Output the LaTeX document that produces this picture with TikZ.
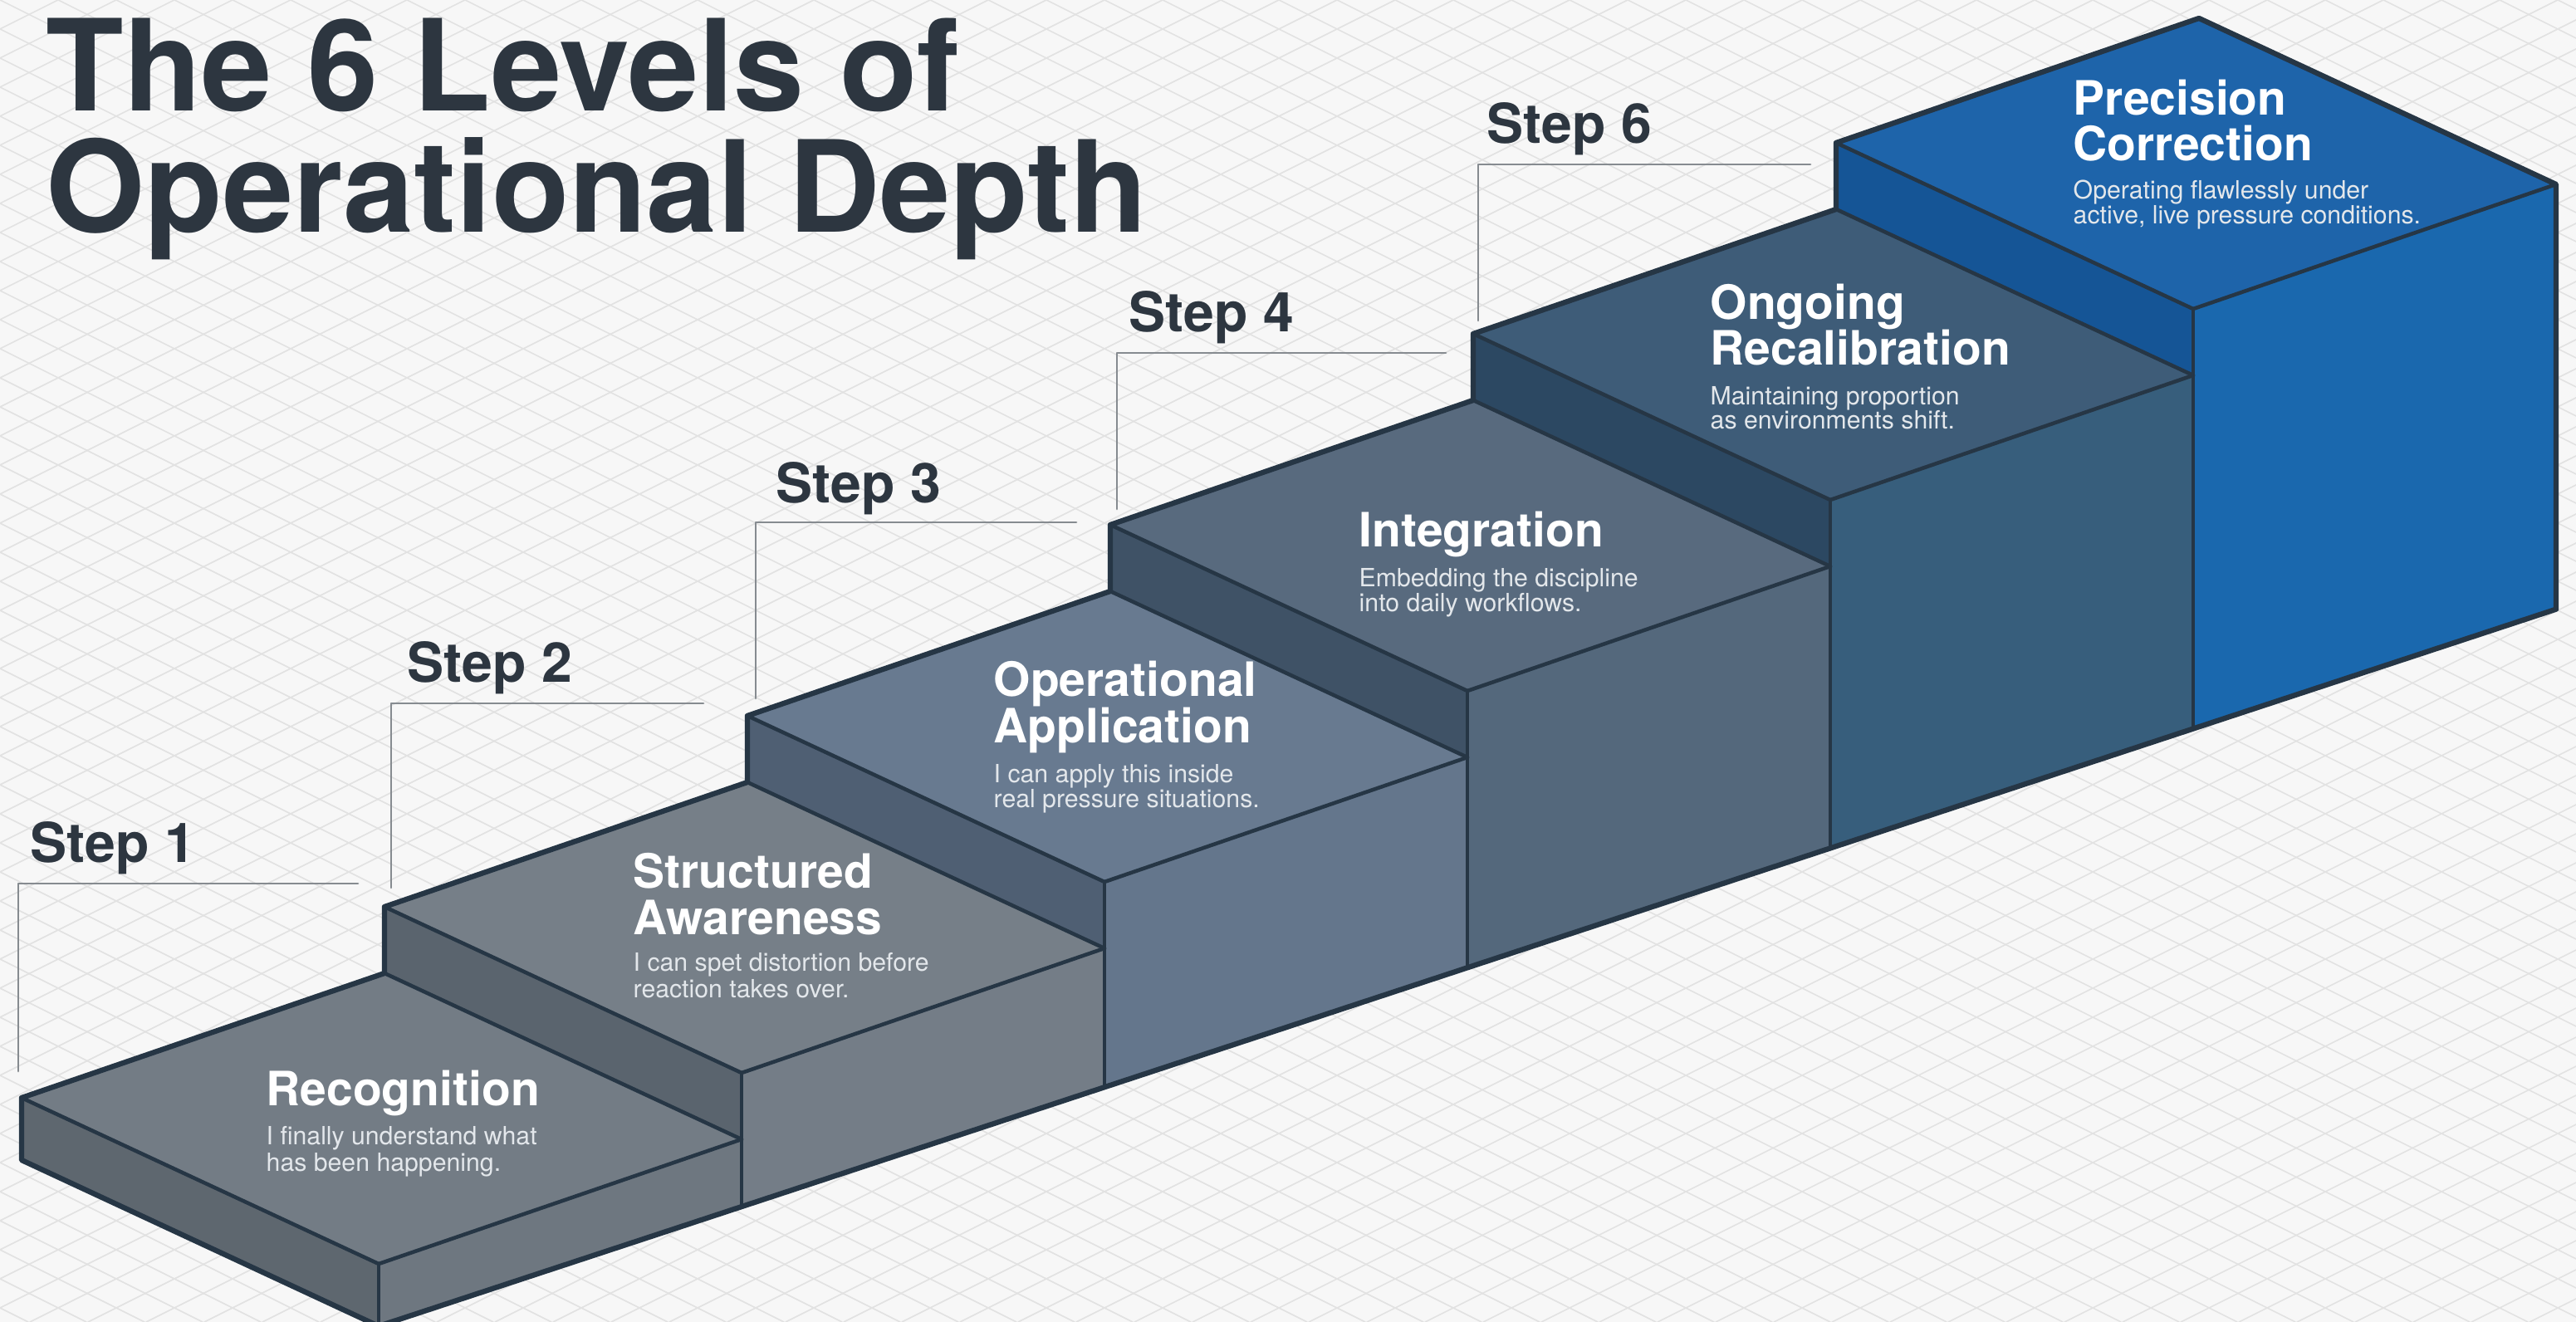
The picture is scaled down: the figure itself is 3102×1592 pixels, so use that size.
\documentclass[tikz,border=0pt]{standalone}
\usepackage{fontspec}
\setmainfont{TeX Gyre Heros}
\definecolor{bgcol}{HTML}{F7F7F7}
\definecolor{gridcol}{HTML}{E2E2E2}
\definecolor{titlecol}{HTML}{2D3640}
\definecolor{leadcol}{HTML}{868B90}
\definecolor{edgecol}{HTML}{263645}
\definecolor{subcol}{HTML}{E3E7EB}
\definecolor{tp1}{HTML}{737C85}\definecolor{fr1}{HTML}{6E7780}\definecolor{rs1}{HTML}{5E676F}
\definecolor{tp2}{HTML}{767F88}\definecolor{fr2}{HTML}{747D87}\definecolor{rs2}{HTML}{5A646E}
\definecolor{tp3}{HTML}{687A90}\definecolor{fr3}{HTML}{64768C}\definecolor{rs3}{HTML}{4F5F73}
\definecolor{tp4}{HTML}{586A7E}\definecolor{fr4}{HTML}{54687C}\definecolor{rs4}{HTML}{3F5266}
\definecolor{tp5}{HTML}{3E5C78}\definecolor{fr5}{HTML}{375E7C}\definecolor{rs5}{HTML}{2C4862}
\definecolor{tp6}{HTML}{1E64AA}\definecolor{fr6}{HTML}{1A68AE}\definecolor{rs6}{HTML}{155596}
\tikzset{
  titletext/.style={anchor=base west, inner sep=0pt, text=titlecol, font=\fontsize{43.5}{44}\selectfont\bfseries},
  steptext/.style={anchor=base west, inner sep=0pt, text=titlecol, font=\fontsize{18.8}{20}\selectfont\bfseries},
  blocktitle/.style={anchor=base west, inner sep=0pt, text=white, font=\fontsize{16.2}{16}\selectfont\bfseries},
  blocksub/.style={anchor=base west, inner sep=0pt, text=subcol, font=\fontsize{8.6}{9}\selectfont},
  leader/.style={draw=leadcol, line width=0.8pt},
  gridline/.style={draw=gridcol, line width=0.45pt},
  inneredge/.style={draw=edgecol, line width=1.3pt},
  outeredge/.style={draw=edgecol, line width=1.8pt},
}
\begin{document}
\begin{tikzpicture}[x=0.01cm,y=-0.01cm,line join=round,line cap=round]
\useasboundingbox (0,0) rectangle (3102,1592);
\fill[bgcol] (0,0) rectangle (3102,1592);
\begin{scope}
  \clip (0,0) rectangle (3102,1592);
  \foreach \k in {-46,...,45} {\draw[gridline] ({\k*70},0) -- ({\k*70+3184},1592);}
  \foreach \k in {0,...,91} {\draw[gridline] ({\k*70},0) -- ({\k*70-3184},1592);}
\end{scope}
% block corner coordinates
\foreach \i in {1,...,6}{
  \pgfmathsetmacro\cx{456+437*(\i-1)}
  \pgfmathsetmacro\cy{1522-230*(\i-1)}
  \pgfmathsetmacro\gc{1597-0.32927*(\cx-456)}
  \pgfmathsetmacro\gd{1597-0.32927*(\cx+437-456)}
  \coordinate (C\i) at (\cx,\cy);
  \coordinate (A\i) at (\cx-430,\cy-200);
  \coordinate (B\i) at (\cx+7,\cy-350);
  \coordinate (D\i) at (\cx+437,\cy-150);
  \coordinate (Cg\i) at (\cx,\gc);
  \coordinate (Dg\i) at (\cx+437,\gd);
  \coordinate (Ar\i) at (\cx-430,\cy-120);
  \coordinate (Cr\i) at (\cx,\cy+80);
}
\coordinate (A1g) at (26,1397);
% faces
\foreach \i in {1,...,6}{
  \fill[fr\i] (C\i) -- (D\i) -- (Dg\i) -- (Cg\i) -- cycle;
  \fill[tp\i] (A\i) -- (B\i) -- (D\i) -- (C\i) -- cycle;
}
\foreach \i in {2,...,6}{
  \fill[rs\i] (Ar\i) -- (Cr\i) -- (C\i) -- (A\i) -- cycle;
}
\fill[rs1] (A1) -- (C1) -- (Cg1) -- (A1g) -- cycle;
% edges
\foreach \i in {1,...,6}{
  \draw[inneredge] (A\i) -- (C\i) -- (D\i);
  \draw[inneredge] (C\i) -- (Cg\i);
}
\foreach \i in {1,...,5}{
  \draw[inneredge] (B\i) -- (D\i);
}
\draw[outeredge] (A1g) -- (A1) -- (B1) -- (A2) -- (B2) -- (A3) -- (B3) -- (A4) -- (B4)
  -- (A5) -- (B5) -- (A6) -- (B6) -- (D6) -- (Dg6) -- (Cg1) -- cycle;
% title
\node[titletext] (title1) at (55,134) {The 6 Levels of};
\node[titletext] (title2) at (55,280) {Operational Depth};
% step labels and leaders
\node[steptext] (step1) at (36,1039) {Step 1};
\node[steptext] (step2) at (490,822) {Step 2};
\node[steptext] (step3) at (934,606) {Step 3};
\node[steptext] (step4) at (1359,400) {Step 4};
\node[steptext] (step6) at (1790,173) {Step 6};
\coordinate (l1a) at (22,1290); \coordinate (l1b) at (22,1064); \coordinate (l1c) at (431,1064);
\coordinate (l2a) at (471,1069); \coordinate (l2b) at (471,847); \coordinate (l2c) at (847,847);
\coordinate (l3a) at (910,841); \coordinate (l3b) at (910,629); \coordinate (l3c) at (1296,629);
\coordinate (l4a) at (1345,613); \coordinate (l4b) at (1345,425); \coordinate (l4c) at (1741,425);
\coordinate (l6a) at (1780,386); \coordinate (l6b) at (1780,198); \coordinate (l6c) at (2180,198);
\draw[leader] (l1a) -- (l1b) -- (l1c);
\draw[leader] (l2a) -- (l2b) -- (l2c);
\draw[leader] (l3a) -- (l3b) -- (l3c);
\draw[leader] (l4a) -- (l4b) -- (l4c);
\draw[leader] (l6a) -- (l6b) -- (l6c);
% block texts
\node[blocktitle] (b1t) at (320,1331) {Recognition};
\node[blocksub] (b1s1) at (320,1378) {I finally understand what};
\node[blocksub] (b1s2) at (320,1410) {has been happening.};
\node[blocktitle] (b2t1) at (762,1070) {Structured};
\node[blocktitle] (b2t2) at (762,1126) {Awareness};
\node[blocksub] (b2s1) at (762,1170) {I can spet distortion before};
\node[blocksub] (b2s2) at (762,1202) {reaction takes over.};
\node[blocktitle] (b3t1) at (1196,839) {Operational};
\node[blocktitle] (b3t2) at (1196,895) {Application};
\node[blocksub] (b3s1) at (1196,943) {I can apply this inside};
\node[blocksub] (b3s2) at (1196,973) {real pressure situations.};
\node[blocktitle] (b4t) at (1636,659) {Integration};
\node[blocksub] (b4s1) at (1636,707) {Embedding the discipline};
\node[blocksub] (b4s2) at (1636,737) {into daily workflows.};
\node[blocktitle] (b5t1) at (2059,385) {Ongoing};
\node[blocktitle] (b5t2) at (2059,440) {Recalibration};
\node[blocksub] (b5s1) at (2059,488) {Maintaining proportion};
\node[blocksub] (b5s2) at (2059,517) {as environments shift.};
\node[blocktitle] (b6t1) at (2496,139) {Precision};
\node[blocktitle] (b6t2) at (2496,194) {Correction};
\node[blocksub] (b6s1) at (2496,240) {Operating flawlessly under};
\node[blocksub] (b6s2) at (2496,270) {active, live pressure conditions.};
\end{tikzpicture}
\end{document}
